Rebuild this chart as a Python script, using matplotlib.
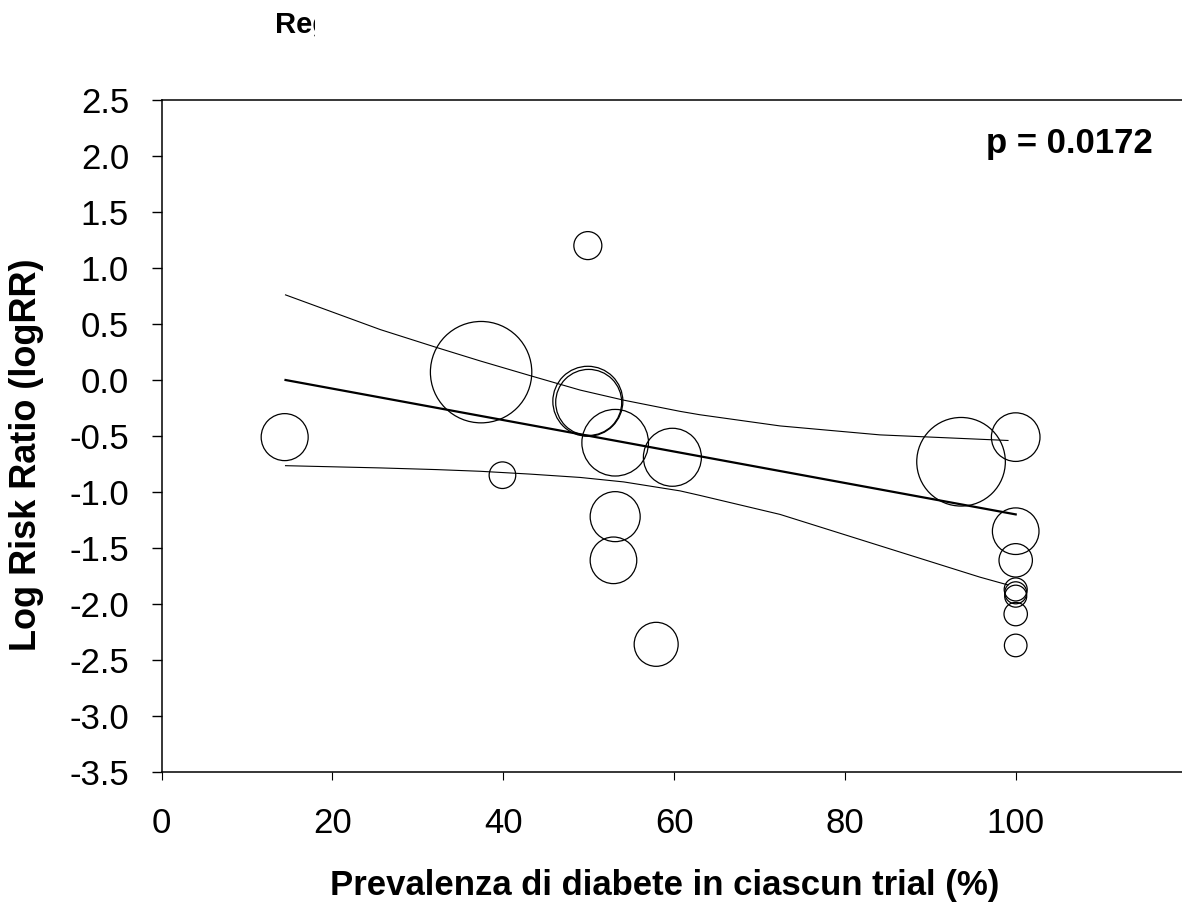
import matplotlib
matplotlib.use('Agg')
import matplotlib.pyplot as plt
from matplotlib.transforms import Bbox

plt.rcParams['font.family'] = ['Liberation Sans', 'DejaVu Sans']

# Studi: prevalenza di diabete (%), logRR, raggio della bolla (px, peso dello studio)
prev = [14.4, 39.9, 37.4, 49.9, 50.0, 53.1, 59.8, 53.1, 52.9, 49.9, 57.9,
        93.6, 100, 100, 100, 100, 100, 100, 100, 100]
logrr = [-0.51, -0.85, 0.07, -0.19, -0.20, -0.56, -0.69, -1.22, -1.61, 1.20, -2.36,
         -0.73, -0.51, -1.35, -1.61, -1.87, -1.90, -1.93, -2.09, -2.37]
bubble_r = [23.5, 13.3, 50.7, 35, 33, 33.3, 29, 25, 23.3, 14, 22,
            44.3, 24.3, 23.3, 16.7, 11.5, 11, 11, 11.7, 11.3]

# retta di meta-regressione
reg_x = [14.5, 100]
reg_y = [0.0, -1.20]

# limiti di confidenza
upper_x = [14.5, 25.6, 32.2, 37.3, 43.1, 49.0, 54.1, 60.7, 63.0, 72.4, 84.1, 99.1]
upper_y = [0.76, 0.45, 0.29, 0.17, 0.04, -0.09, -0.18, -0.28, -0.31, -0.41, -0.49, -0.54]
lower_x = [14.5, 25.6, 32.2, 37.3, 43.1, 49.0, 54.1, 60.7, 63.0, 72.4, 84.1, 95.8, 99.1]
lower_y = [-0.765, -0.785, -0.80, -0.815, -0.84, -0.87, -0.91, -0.99, -1.03, -1.20, -1.48, -1.76, -1.83]

xticks = [0, 20, 40, 60, 80, 100]
yticks = [2.5, 2.0, 1.5, 1.0, 0.5, 0.0, -0.5, -1.0, -1.5, -2.0, -2.5, -3.0, -3.5]

W, H = 1182, 909
fig = plt.figure(figsize=(W / 100, H / 100), dpi=100)
ax = fig.add_axes([161.7 / W, 1 - 772 / H, 1024.8 / W, 672 / H])

sizes = [(2 * r * 0.72) ** 2 for r in bubble_r]
ax.scatter(prev, logrr, s=sizes, facecolors='none', edgecolors='black', linewidths=0.9, zorder=3)

ax.plot(reg_x, reg_y, color='black', lw=1.6)
ax.plot(upper_x, upper_y, color='black', lw=0.8)
ax.plot(lower_x, lower_y, color='black', lw=0.8)

ax.set_xlim(0, 120)
ax.set_ylim(-3.5, 2.5)
ax.set_xticks(xticks)
ax.set_yticks(yticks)
ax.set_yticklabels(['%.1f' % v for v in yticks])
ax.tick_params(axis='y', direction='out', length=7.5, width=1.0, pad=16, labelsize=25)
ax.tick_params(axis='x', direction='out', length=6, width=0.8, pad=19, labelsize=25)
for s in ax.spines.values():
    s.set_linewidth(1.1)

ax.text(116, 2.03, 'p = 0.0172', ha='right', va='baseline', fontsize=25, fontweight='bold')

# titolo tagliato come nell'originale
t = fig.text(275 / W, 1 - 33 / H, 'Reg', ha='left', va='baseline', fontsize=21, fontweight='bold')
t.set_clip_box(Bbox([[0, 0], [315, H]]))
t.set_clip_on(True)

fig.text(27 / W, 1 - 455 / H, 'Log Risk Ratio (logRR)', rotation=90, ha='center', va='center',
         fontsize=26, fontweight='bold')
fig.text(665 / W, 1 - 895 / H, 'Prevalenza di diabete in ciascun trial (%)', ha='center', va='baseline',
         fontsize=25, fontweight='bold')

fig.savefig('out.png', dpi=100)
